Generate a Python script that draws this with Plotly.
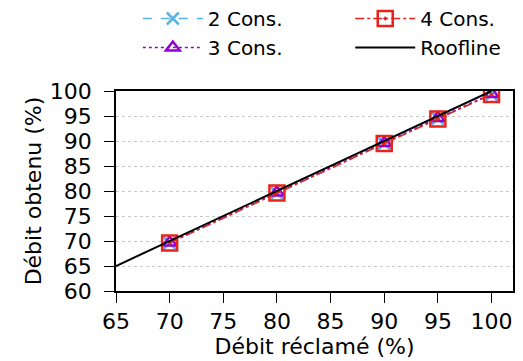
import plotly.graph_objects as go

claimed = [70, 80, 90, 95, 100]
cons2 = [69.6, 79.6, 89.5, 94.5, 99.3]
cons3 = [69.7, 79.7, 89.6, 94.6, 99.4]
cons4 = [69.6, 79.6, 89.5, 94.4, 99.3]
roof_x = [65, 100]
roof_y = [65, 100]
x_ticks = [65, 70, 75, 80, 85, 90, 95, 100]
y_ticks = [60, 65, 70, 75, 80, 85, 90, 95, 100]

FONT = "DejaVu Sans"

fig = go.Figure()
fig.add_trace(go.Scatter(
    x=claimed, y=cons2, name="2 Cons.", mode="lines+markers", legend="legend",
    line=dict(color="#56B4E9", width=1.5, dash="dash"),
    marker=dict(symbol="x-thin-open", size=12, line=dict(color="#56B4E9", width=2.5))))
fig.add_trace(go.Scatter(
    x=claimed, y=cons3, name="3 Cons.", mode="lines+markers", legend="legend",
    line=dict(color="#9400D3", width=1.5, dash="dot"),
    marker=dict(symbol="triangle-up-open", size=12, line=dict(color="#9400D3", width=2.5))))
fig.add_trace(go.Scatter(
    x=claimed, y=cons4, name="4 Cons.", mode="lines+markers", legend="legend2",
    line=dict(color="#E8231A", width=1.5, dash="dashdot"),
    marker=dict(symbol="square-open-dot", size=15, line=dict(color="#E8231A", width=2.5))))
fig.add_trace(go.Scatter(
    x=roof_x, y=roof_y, name="Roofline", mode="lines", legend="legend2",
    line=dict(color="black", width=2)))

leg_common = dict(orientation="v", yanchor="top", xanchor="left",
                  font=dict(size=20, family=FONT), itemwidth=60,
                  bgcolor="rgba(0,0,0,0)", tracegroupgap=0)

fig.update_layout(
    width=515, height=353,
    margin=dict(l=108, r=10, t=83, b=70, autoexpand=False),
    paper_bgcolor="white", plot_bgcolor="white",
    font=dict(family=FONT, size=22, color="black"),
    showlegend=True,
    legend=dict(x=0.055, y=1.46, traceorder="normal", **leg_common),
    legend2=dict(x=0.59, y=1.46, traceorder="normal", **leg_common),
    xaxis=dict(range=[65, 102], tickvals=x_ticks, ticks="outside", ticklen=10,
               tickcolor="black", showline=True, linecolor="black", linewidth=1.5,
               mirror=True, showgrid=False, zeroline=False,
               title=dict(text="Débit réclamé (%)", font=dict(size=22), standoff=4),
               tickfont=dict(size=22)),
    yaxis=dict(range=[60, 100], tickvals=y_ticks, ticks="outside", ticklen=10,
               ticklabelstandoff=8,
               tickcolor="black", showline=True, linecolor="black", linewidth=1.5,
               mirror=True, showgrid=True, gridcolor="#c8c8c8", griddash="dot",
               gridwidth=1, zeroline=False,
               title=dict(text="Débit obtenu (%)", font=dict(size=22), standoff=2),
               tickfont=dict(size=22)),
)

fig.write_html("out.html")
